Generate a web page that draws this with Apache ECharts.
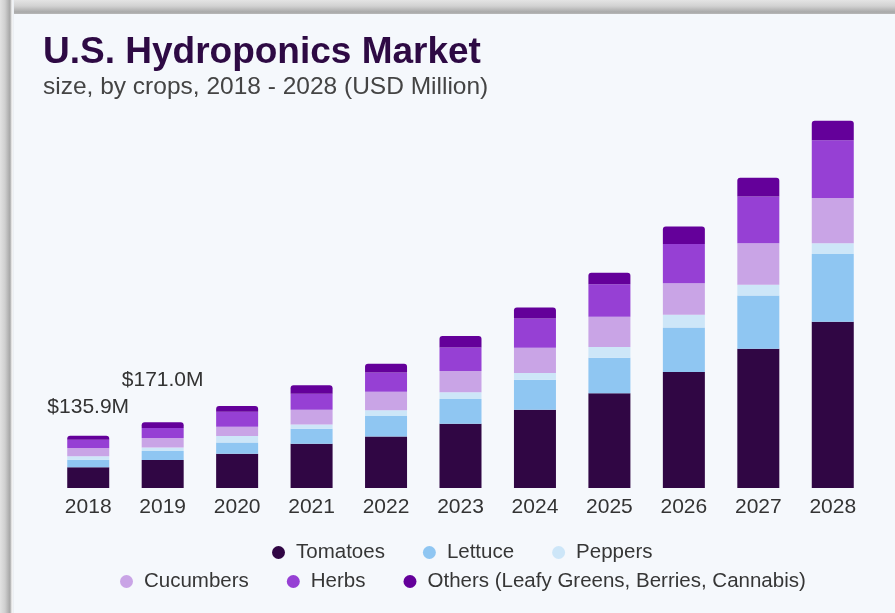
<!DOCTYPE html>
<html>
<head>
<meta charset="utf-8">
<script src="https://cdn.jsdelivr.net/npm/echarts@6/dist/echarts.min.js"></script>
<style>
  html, body { margin: 0; padding: 0; width: 895px; height: 613px; overflow: hidden; background: #f5f8fc; }
  #topbar { position: absolute; left: 0; top: 0; width: 895px; height: 14px;
    background: linear-gradient(to bottom, #e4e4e4 0px, #d2d2d2 6px, #a9a9a9 12px, #b8b8b8 14px); }
  #leftbar { position: absolute; left: 0; top: 0; width: 14px; height: 613px;
    background: linear-gradient(to right, #e2e2e2 0px, #cfcfcf 5px, #a6a6a6 10px, #f4f4f4 12px, #e9eef4 14px); }
  #panel { position: absolute; left: 14px; top: 14px; width: 881px; height: 599px; background: #f5f8fc; }
  #chart { position: absolute; left: 0; top: 0; width: 895px; height: 613px; }
</style>
</head>
<body>
<div id="topbar"></div>
<div id="leftbar"></div>
<div id="panel"></div>
<div id="chart"></div>
<script>
const years = ['2018','2019','2020','2021','2022','2023','2024','2025','2026','2027','2028'];
const tomatoes  = [53.7, 72.7, 89, 115, 134, 167, 203, 246, 301, 362, 432];
const lettuce   = [20.0, 23.1, 29, 39, 53, 64, 78, 92, 116, 138, 176];
const peppers   = [8.6, 9.4, 17, 11, 15, 18, 18, 28, 33, 28, 28];
const cucumbers = [21.6, 24.8, 24, 38, 48, 55, 65, 79, 82, 108, 117];
const herbs     = [21.6, 25.6, 39, 42, 50, 61, 76, 84, 102, 121, 150];
const others    = [10.4, 15.4, 15, 22, 23, 30, 29, 30, 45, 49, 51];
const labeledYears = 2; // totals shown for 2018 and 2019

const seriesNames = ['Tomatoes', 'Lettuce', 'Peppers', 'Cucumbers', 'Herbs', 'Others (Leafy Greens, Berries, Cannabis)'];
const seriesValues = [tomatoes, lettuce, peppers, cucumbers, herbs, others];
const colors = ['#300644', '#8fc6f2', '#cde6f8', '#c9a4e6', '#9640d4', '#64009a'];
const labelDistances = [18, 31];

const totals = years.map((_, i) => seriesValues.reduce((s, arr) => s + arr[i], 0));
const FONT = "'Liberation Sans', Arial, sans-serif";

const chart = echarts.init(document.getElementById('chart'), null, { renderer: 'canvas' });

const series = seriesNames.map((name, k) => {
  const isTop = k === seriesNames.length - 1;
  return {
    name: name,
    type: 'bar',
    stack: 'total',
    barWidth: 42,
    itemStyle: { color: colors[k], borderRadius: isTop ? [3, 3, 0, 0] : 0 },
    data: seriesValues[k].map((v, i) => isTop ? ({
      value: v,
      label: {
        show: i < labeledYears,
        position: 'top',
        distance: labelDistances[i] || 18,
        formatter: () => '$' + totals[i].toFixed(1) + 'M',
        color: '#333333',
        fontSize: 21,
        fontFamily: FONT
      }
    }) : v),
    emphasis: { disabled: true },
    animation: false
  };
});

const legendCommon = {
  orient: 'horizontal',
  icon: 'circle',
  itemWidth: 25,
  itemHeight: 13,
  itemGap: 38,
  textStyle: { color: '#363636', fontSize: 20.5, fontFamily: FONT },
  selectedMode: false
};

chart.setOption({
  backgroundColor: 'transparent',
  animation: false,
  title: [
    { text: 'U.S. Hydroponics Market', left: 38, top: 29,
      textStyle: { color: '#2e0a44', fontSize: 37, fontWeight: 'bold', fontFamily: FONT } },
    { text: 'size, by crops, 2018 - 2028 (USD Million)', left: 38, top: 70,
      textStyle: { color: '#444444', fontSize: 24.5, fontWeight: 'normal', fontFamily: FONT } }
  ],
  legend: [
    Object.assign({}, legendCommon, { data: seriesNames.slice(0, 3), left: 267, top: 537 }),
    Object.assign({}, legendCommon, { data: seriesNames.slice(3), left: 115, top: 566 })
  ],
  grid: { left: 51, right: 25, top: 103, bottom: 125 },
  xAxis: {
    type: 'category',
    data: years,
    axisLine: { show: false },
    axisTick: { show: false },
    axisLabel: { color: '#333333', fontSize: 21, margin: 9, fontFamily: FONT }
  },
  yAxis: {
    type: 'value',
    min: 0,
    max: 1000,
    show: false,
    splitLine: { show: false }
  },
  series: series
});
</script>
</body>
</html>
